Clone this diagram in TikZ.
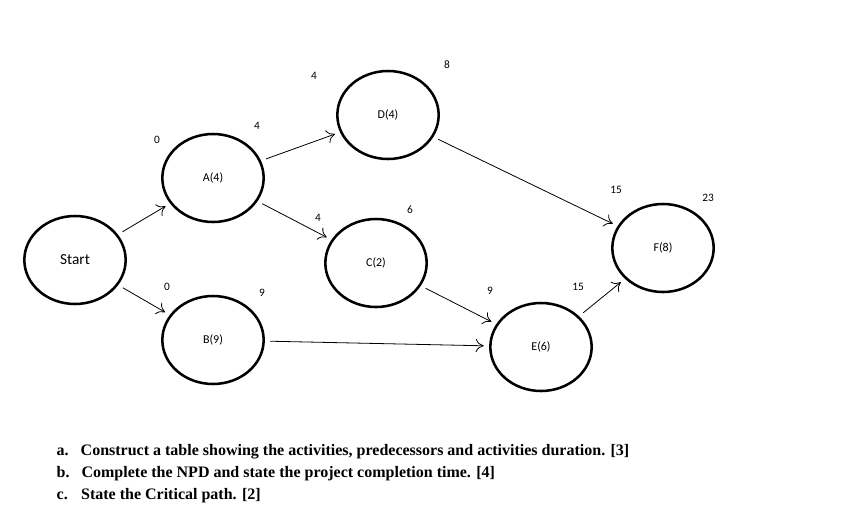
\documentclass[tikz,border=0pt]{standalone}
\usepackage{fontspec}
\setmainfont{Liberation Serif}
\newfontfamily\calfnt{Carlito}
\usetikzlibrary{shapes.geometric,arrows.meta}
\begin{document}
\begin{tikzpicture}[x=0.75pt,y=-0.75pt,
  ev/.style={ellipse,draw,line width=1.9pt,minimum width=76pt,minimum height=66pt,inner sep=0pt,font=\calfnt\fontsize{9}{10}\selectfont},
  lab/.style={font=\calfnt\fontsize{8.5}{9}\selectfont},
  arr/.style={-{To[length=6pt,width=10pt]},line width=0.6pt,shorten >=4pt,shorten <=4pt},
  q/.style={font=\bfseries\fontsize{12}{13}\selectfont,anchor=west}]
\useasboundingbox (0,0) rectangle (861,511);
\node[ev] (S) at (75,260) {\fontsize{11.5}{12}\selectfont Start};
\node[ev] (A) at (213,178) {A(4)};
\node[ev] (B) at (213,340) {B(9)};
\node[ev] (D) at (388,115) {D(4)};
\node[ev] (C) at (376,263) {C(2)};
\node[ev] (E) at (541,347) {E(6)};
\node[ev] (F) at (663,248) {F(8)};
\draw[arr] (S) -- (A);
\draw[arr] (S) -- (B);
\draw[arr] (A) -- (D);
\draw[arr] (A) -- (C);
\draw[arr] (D) -- (F);
\draw[arr] (C) -- (E);
\draw[arr] (B) -- (E);
\draw[arr] (E) -- (F);
\node[lab] (l1) at (157,140) {0};
\node[lab] (l2) at (257,126) {4};
\node[lab] (l3) at (167,287) {0};
\node[lab] (l4) at (262,293) {9};
\node[lab] (l5) at (314,76) {4};
\node[lab] (l6) at (447,65) {8};
\node[lab] (l7) at (318,218) {4};
\node[lab] (l8) at (410,210) {6};
\node[lab] (l9) at (490,291) {9};
\node[lab] (l10) at (578,287) {15};
\node[lab] (l11) at (616,190) {15};
\node[lab] (l12) at (708,198) {23};
\node[q] (qa) at (52,452) {a.\hspace{9pt}Construct a table showing the activities, predecessors and activities duration. [3]};
\node[q] (qb) at (52,474) {b.\hspace{9pt}Complete the NPD and state the project completion time. [4]};
\node[q] (qc) at (52,496) {c.\hspace{10pt}State the Critical path. [2]};
\end{tikzpicture}
\end{document}
